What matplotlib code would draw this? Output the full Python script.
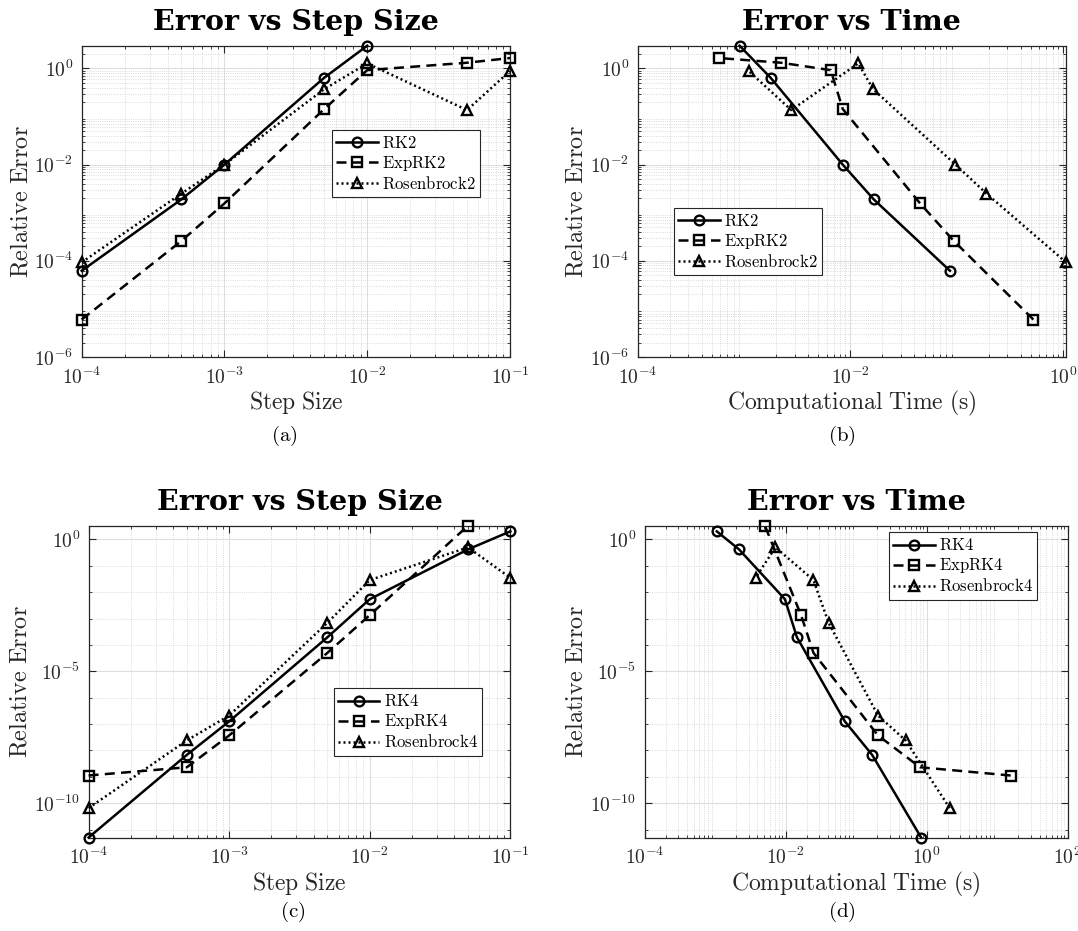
import numpy as np
import matplotlib
matplotlib.use('Agg')
import matplotlib.pyplot as plt
from matplotlib.ticker import FixedLocator, FuncFormatter, NullFormatter

# step sizes used in every run
steps = [1e-4, 5e-4, 1e-3, 5e-3, 1e-2, 5e-2, 1e-1]

# second order methods
rk2_err = [6.2e-5, 1.9e-3, 1.0e-2, 0.64, 2.96]
rk2_time = [0.0867, 0.0166, 8.5e-3, 1.78e-3, 9.1e-4]
exprk2_err = [6.0e-6, 2.6e-4, 1.56e-3, 0.143, 0.92, 1.31, 1.64]
exprk2_time = [0.528, 0.094, 0.0454, 8.5e-3, 6.55e-3, 2.23e-3, 5.83e-4]
ros2_err = [9.3e-5, 2.5e-3, 1.0e-2, 0.37, 1.27, 0.136, 0.88]
ros2_time = [1.07, 0.191, 0.0977, 0.0164, 0.0119, 2.79e-3, 1.11e-3]

# fourth order methods
rk4_err = [5.0e-12, 6.8e-9, 1.26e-7, 1.95e-4, 5.4e-3, 0.417, 2.01]
rk4_time = [0.836, 0.169, 0.0693, 0.0145, 9.8e-3, 2.19e-3, 1.06e-3]
exprk4_err = [1.12e-9, 2.3e-9, 3.7e-8, 5.0e-5, 1.34e-3, 3.3]
exprk4_time = [15.6, 0.807, 0.205, 0.0249, 0.0166, 5.1e-3]
ros4_err = [6.5e-11, 2.4e-8, 2.1e-7, 6.9e-4, 0.0286, 0.497, 0.035]
ros4_time = [2.13, 0.504, 0.205, 0.0408, 0.0249, 7.2e-3, 3.76e-3]

plt.rcParams['mathtext.fontset'] = 'cm'
GRAY = '#262626'

W, H = 1078, 931
fig = plt.figure(figsize=(W / 100, H / 100), dpi=100)


def px_axes(left, right, top, bottom):
    return fig.add_axes([left / W, 1 - bottom / H, (right - left) / W, (bottom - top) / H])


def mt(s):
    return r'$\mathrm{%s}$' % s.replace(' ', r'\ ')


def style_axis(ax, xmajor, ymajor, yminor_decades):
    ax.set_xscale('log')
    ax.set_yscale('log')
    fmt = FuncFormatter(lambda v, p: r'$10^{%d}$' % round(np.log10(v)))
    ax.xaxis.set_major_locator(FixedLocator(xmajor))
    ax.yaxis.set_major_locator(FixedLocator(ymajor))
    ax.xaxis.set_major_formatter(fmt)
    ax.yaxis.set_major_formatter(fmt)
    dec = np.arange(-14, 4)
    sub = np.array([b * 10.0 ** d for d in dec for b in range(2, 10)])
    ax.xaxis.set_minor_locator(FixedLocator(sub))
    if yminor_decades:
        ax.yaxis.set_minor_locator(FixedLocator(10.0 ** dec))
    else:
        ax.yaxis.set_minor_locator(FixedLocator(sub))
    ax.xaxis.set_minor_formatter(NullFormatter())
    ax.yaxis.set_minor_formatter(NullFormatter())
    ax.grid(True, which='major', color='#dedede', lw=0.8, ls='-')
    ax.grid(True, which='minor', color='#cfcfcf', lw=0.6, ls=':')
    ax.set_axisbelow(True)
    ax.tick_params(which='both', direction='in', top=True, right=True,
                   color=GRAY, labelcolor=GRAY, labelsize=14)
    ax.tick_params(axis='x', which='major', pad=7)
    ax.tick_params(axis='y', which='major', pad=6)
    ax.tick_params(which='major', length=5, width=0.8)
    ax.tick_params(which='minor', length=2.5, width=0.6)
    for sp in ax.spines.values():
        sp.set_color(GRAY)
        sp.set_linewidth(0.9)


def draw(ax, series, labels):
    styles = [('-', 'o', 7), ('--', 's', 6.5), (':', '^', 7.5)]
    for (x, y), lab, (ls, mk, ms) in zip(series, labels, styles):
        line, = ax.plot(x, y, ls=ls, marker=mk, ms=ms, color='black', lw=1.8,
                        mfc='none', mew=1.7, label=mt(lab), clip_on=False, zorder=3)
        if ls == '--':
            line.set_dashes((4, 2.5))
        if ls == ':':
            line.set_dashes((0.8, 1.2))


def legend(ax, x, y):
    leg = ax.legend(loc='upper left', bbox_to_anchor=(x, y), fontsize=12,
                    fancybox=False, framealpha=1, edgecolor=GRAY, borderpad=0.25,
                    handlelength=2.5, handletextpad=0.25, labelspacing=0.12,
                    borderaxespad=0)
    leg.get_frame().set_linewidth(0.8)


def labels(ax, title, xlabel, xly, yly):
    ax.set_title(title, fontsize=20.5, pad=11, color='black',
                 family='DejaVu Serif', fontweight='bold')
    ax.set_xlabel(mt(xlabel), fontsize=17, color=GRAY, va='center')
    ax.set_ylabel(mt('Relative Error'), fontsize=17.5, color=GRAY, va='center')
    ax.xaxis.set_label_coords(0.5, xly)
    ax.yaxis.set_label_coords(yly, 0.5)


# (a)
ax = px_axes(81.7, 510, 45.7, 357)
style_axis(ax, [1e-4, 1e-3, 1e-2, 1e-1], [1e-6, 1e-4, 1e-2, 1e0], False)
draw(ax, [(steps[:5], rk2_err), (steps, exprk2_err), (steps, ros2_err)],
     ['RK2', 'ExpRK2', 'Rosenbrock2'])
ax.set_xlim(1e-4, 1e-1)
ax.set_ylim(1e-6, max(rk2_err))
legend(ax, 0.584, 0.729)
labels(ax, 'Error vs Step Size', 'Step Size', -0.145, -0.144)

# (b)
ax = px_axes(637.6, 1066, 45.7, 357)
style_axis(ax, [1e-4, 1e-2, 1e0], [1e-6, 1e-4, 1e-2, 1e0], False)
draw(ax, [(rk2_time, rk2_err), (exprk2_time, exprk2_err), (ros2_time, ros2_err)],
     ['RK2', 'ExpRK2', 'Rosenbrock2'])
ax.set_xlim(1e-4, max(ros2_time))
ax.set_ylim(1e-6, max(rk2_err))
legend(ax, 0.0845, 0.48)
labels(ax, 'Error vs Time', 'Computational Time (s)', -0.148, -0.145)

# (c)
ax = px_axes(88.6, 510.3, 525.7, 837.5)
style_axis(ax, [1e-4, 1e-3, 1e-2, 1e-1], [1e-10, 1e-5, 1e0], True)
draw(ax, [(steps, rk4_err), (steps[:6], exprk4_err), (steps, ros4_err)],
     ['RK4', 'ExpRK4', 'Rosenbrock4'])
ax.set_xlim(1e-4, 1e-1)
ax.set_ylim(min(rk4_err), max(exprk4_err))
legend(ax, 0.581, 0.4785)
labels(ax, 'Error vs Step Size', 'Step Size', -0.148, -0.165)

# (d)
ax = px_axes(644.5, 1067.6, 525.7, 837.5)
style_axis(ax, [1e-4, 1e-2, 1e0, 1e2], [1e-10, 1e-5, 1e0], True)
draw(ax, [(rk4_time, rk4_err), (exprk4_time, exprk4_err), (ros4_time, ros4_err)],
     ['RK4', 'ExpRK4', 'Rosenbrock4'])
ax.set_xlim(1e-4, 1e2)
ax.set_ylim(min(rk4_err), max(exprk4_err))
legend(ax, 0.578, 0.979)
labels(ax, 'Error vs Time', 'Computational Time (s)', -0.15, -0.163)

# sub captions
for txt, x, y in [('(a)', 284, 436), ('(b)', 842, 436), ('(c)', 293, 912), ('(d)', 842, 912)]:
    fig.text(x / W, 1 - y / H, mt(txt), fontsize=15, ha='center', va='center')

fig.savefig('out.png', dpi=100)
